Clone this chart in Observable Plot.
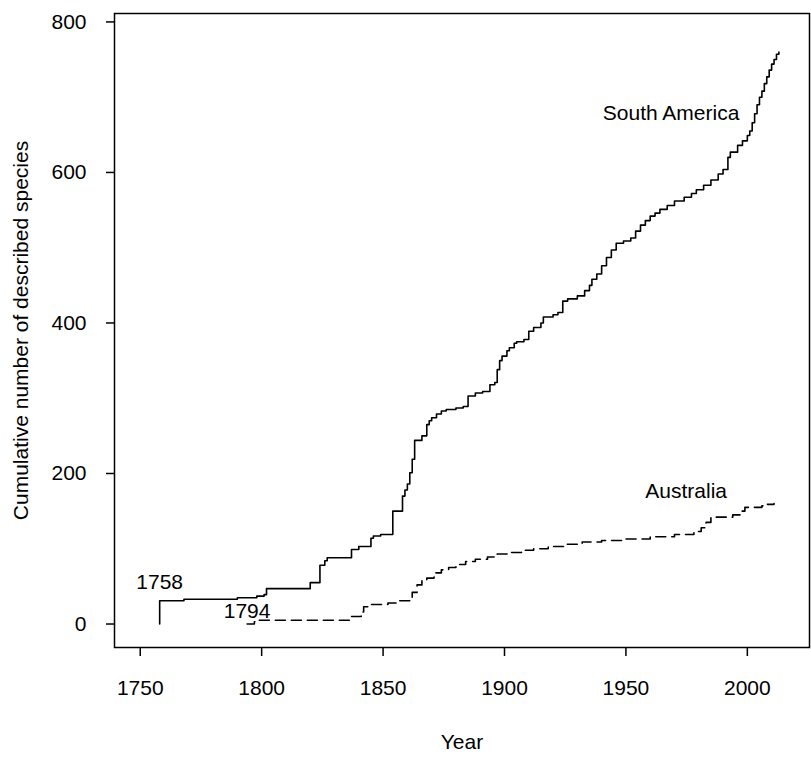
<!DOCTYPE html>
<html>
<head>
<meta charset="utf-8">
<script src="https://cdn.jsdelivr.net/npm/d3@7"></script>
<script src="https://cdn.jsdelivr.net/npm/@observablehq/plot@0.6"></script>
<style>
  html, body { margin: 0; padding: 0; background: #fff; }
  svg { display: block; }
</style>
</head>
<body>
<div id="chart"></div>
<script>
// Cumulative number of described species, South America (step line)
const saYear = [1758, 1758, 1768, 1790, 1798, 1801, 1802, 1820, 1824, 1826, 1827, 1837, 1840, 1845, 1846, 1849,
  1854, 1858, 1859, 1860, 1861, 1862, 1863, 1866, 1868, 1869, 1870, 1872, 1874, 1876, 1880, 1883, 1885, 1888,
  1891, 1894, 1896, 1897, 1898, 1899, 1901, 1902, 1904, 1905, 1908, 1910, 1912, 1915, 1916, 1920, 1922, 1924,
  1926, 1930, 1933, 1935, 1936, 1938, 1940, 1942, 1944, 1946, 1949, 1952, 1954, 1956, 1958, 1960, 1962, 1964,
  1967, 1970, 1974, 1977, 1979, 1982, 1985, 1988, 1990, 1992, 1993, 1996, 1998, 2000, 2001, 2002, 2003, 2004,
  2005, 2006, 2007, 2008, 2009, 2010, 2011, 2012, 2013];
const saCount = [0, 31, 33, 35, 37, 39, 47, 55, 78, 84, 88, 99, 103, 114, 117, 119,
  150, 170, 178, 186, 201, 219, 244, 250, 265, 270, 274, 279, 283, 285, 287, 289, 303, 307,
  309, 318, 321, 338, 350, 356, 363, 367, 373, 375, 378, 389, 394, 400, 408, 411, 414, 429,
  432, 436, 443, 450, 458, 465, 476, 487, 497, 506, 509, 513, 522, 530, 536, 542, 546, 551,
  556, 562, 567, 572, 577, 583, 590, 598, 604, 620, 627, 636, 642, 649, 655, 666, 678, 690,
  700, 708, 718, 727, 736, 744, 750, 757, 760];

// Cumulative number of described species, Australia (dashed step line)
const auYear = [1794, 1797, 1799, 1836, 1837, 1841, 1842, 1845, 1852, 1856, 1862, 1864, 1866, 1868, 1871, 1874,
  1877, 1880, 1884, 1888, 1893, 1897, 1902, 1907, 1912, 1918, 1925, 1932, 1940, 1950, 1960, 1970, 1978, 1981,
  1983, 1985, 1994, 1997, 1999, 2006, 2008, 2011];
const auCount = [0, 3, 5, 5, 10, 16, 23, 26, 28, 31, 42, 52, 58, 61, 68, 72,
  75, 79, 83, 86, 89, 93, 95, 98, 100, 103, 106, 109, 111, 113, 116, 119, 123, 128,
  135, 142, 145, 150, 155, 157, 159, 160];

// In-plot annotations
const noteText = ["1758", "1794", "South America", "Australia"];
const noteX = [1758, 1794, 1968.6, 1974.8];
const noteY = [56, 17, 678, 176.6];

const xTicks = [1750, 1800, 1850, 1900, 1950, 2000];
const yTicks = [0, 200, 400, 600, 800];

const southAmerica = saYear.map((year, i) => ({year, count: saCount[i]}));
const australia = auYear.map((year, i) => ({year, count: auCount[i]}));
const notes = noteText.map((text, i) => ({text, year: noteX[i], count: noteY[i]}));

const font = "'Liberation Sans', Arial, Helvetica, sans-serif";

const chart = Plot.plot({
  width: 811,
  height: 765,
  marginLeft: 114,
  marginRight: 2,
  marginTop: 13,
  marginBottom: 118,
  style: {fontFamily: font, fontSize: "21px", color: "#000", background: "#fff"},
  x: {domain: [1739.4, 2025.6]},
  y: {domain: [-31.2, 811.2]},
  marks: [
    Plot.frame({stroke: "#000", strokeWidth: 1.5}),
    Plot.axisX(xTicks, {
      tickSize: 9, tickPadding: 24, tickFormat: d => String(d),
      fontSize: 21, label: null, stroke: "#000", strokeWidth: 1.5
    }),
    Plot.axisY(yTicks, {
      tickSize: 8, tickPadding: 20, tickFormat: d => String(d),
      fontSize: 21, label: null, stroke: "#000", strokeWidth: 1.5
    }),
    Plot.line(southAmerica, {
      x: "year", y: "count", curve: "step-after",
      stroke: "#000", strokeWidth: 1.6
    }),
    Plot.line(australia, {
      x: "year", y: "count", curve: "step-after",
      stroke: "#000", strokeWidth: 1.6, strokeDasharray: "10,6"
    }),
    Plot.text(notes, {
      x: "year", y: "count", text: "text",
      fontSize: 21, fill: "#000", textAnchor: "middle", lineAnchor: "middle"
    }),
    Plot.text(["Year"], {
      frameAnchor: "bottom", dy: 94.5, fontSize: 21, fill: "#000",
      textAnchor: "middle", lineAnchor: "middle"
    }),
    Plot.text(["Cumulative number of described species"], {
      frameAnchor: "left", dx: -93, rotate: -90, fontSize: 21, fill: "#000",
      textAnchor: "middle", lineAnchor: "middle"
    })
  ]
});

document.getElementById("chart").appendChild(chart);
</script>
</body>
</html>
